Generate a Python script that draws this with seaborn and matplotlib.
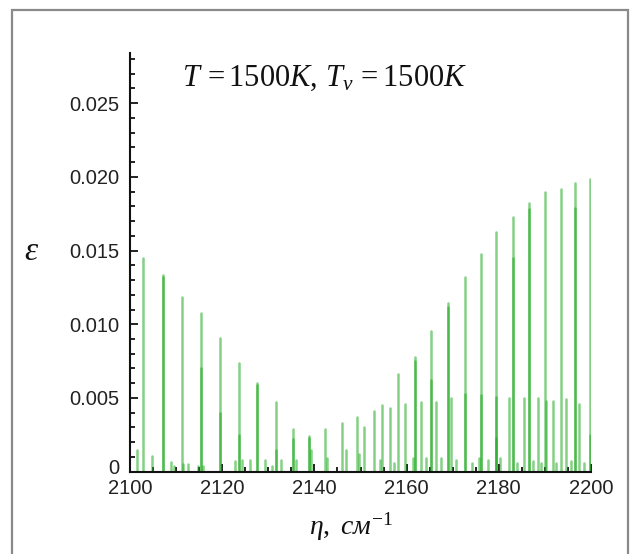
import numpy as np
import pandas as pd
import matplotlib
matplotlib.use("Agg")
import matplotlib.pyplot as plt
import matplotlib.transforms as mtransforms
import seaborn as sns
from matplotlib.ticker import MultipleLocator, FuncFormatter
from matplotlib.patches import Rectangle

# ---- data ----
main_pos = [2102.9, 2107.1, 2111.2, 2115.3, 2119.5, 2123.7, 2127.6, 2131.6, 2135.3,
            2138.8, 2150.8, 2154.6, 2158.2, 2161.8, 2165.4, 2169.0, 2172.7, 2176.1,
            2179.5, 2183.1, 2186.6, 2190.0, 2193.5, 2196.5, 2199.7]
main_height = [0.01448, 0.01334, 0.01187, 0.01075, 0.00905, 0.0074, 0.0060, 0.00475,
               0.00288, 0.00242, 0.00300, 0.00452, 0.0066, 0.0078, 0.00957, 0.01142,
               0.01319, 0.01477, 0.01628, 0.0173, 0.01825, 0.0190, 0.01916, 0.01957,
               0.01984]

overlay_pos = [2107.1, 2115.3, 2119.5, 2123.7, 2127.6, 2131.6, 2135.3, 2138.8,
               2161.8, 2165.4, 2169.0, 2172.7, 2176.1, 2179.5, 2179.5, 2183.1,
               2186.6, 2196.5, 2199.7]
overlay_height = [0.0132, 0.0070, 0.0040, 0.0025, 0.0059, 0.0015, 0.0022, 0.0023,
                  0.0075, 0.0062, 0.0112, 0.0053, 0.0052, 0.0051, 0.0023, 0.0145,
                  0.0178, 0.0179, 0.0025]

hot_pos = [2142.3, 2145.9, 2149.3, 2152.9, 2156.4, 2159.7, 2163.1, 2166.4, 2169.6,
           2182.2, 2185.5, 2188.6, 2190.2, 2191.7, 2194.6, 2197.4]
hot_height = [0.00288, 0.00333, 0.00373, 0.0041, 0.0043, 0.0046, 0.00475, 0.00475,
              0.0050, 0.00498, 0.0050, 0.0050, 0.0048, 0.0048, 0.0049, 0.0046]

weak_pos = [2101.45, 2104.8, 2108.8, 2109.6, 2111.6, 2112.5, 2114.8, 2115.8, 2122.8,
            2124.4, 2126.0, 2129.3, 2130.7, 2132.8, 2136.1, 2139.2, 2142.7, 2146.8,
            2149.6, 2154.3, 2157.3, 2161.4, 2164.3, 2167.4, 2170.8, 2174.2, 2175.6,
            2177.6, 2180.3, 2184.0, 2187.5, 2189.2, 2192.5, 2195.6, 2198.5]
weak_height = [0.00147, 0.00107, 0.00068, 0.0004, 0.0005, 0.0005, 0.0004, 0.0004,
               0.0007, 0.0008, 0.0008, 0.0008, 0.0004, 0.0008, 0.0008, 0.0015, 0.0009,
               0.0015, 0.0012, 0.0008, 0.0006, 0.0009, 0.0009, 0.0009, 0.0008, 0.0006,
               0.0009, 0.0008, 0.0009, 0.0006, 0.0007, 0.0006, 0.0006, 0.0007, 0.0006]

y_ticks = [0, 0.005, 0.010, 0.015, 0.020, 0.025]
x_ticks = [2100, 2120, 2140, 2160, 2180, 2200]
title_text = r"$T\,=1500K,\,T_v\,=1500K$"
xlabel_text = r"$\eta,\ см^{-1}$"
ylabel_text = r"$\varepsilon$"

# ---- build stick spectrum table ----
rows = []
uid = 0
for pos, hts in [(main_pos, main_height), (overlay_pos, overlay_height),
                 (hot_pos, hot_height), (weak_pos, weak_height)]:
    for p, h in zip(pos, hts):
        rows.append({"eta": p, "eps": 0.0, "line": uid})
        rows.append({"eta": p, "eps": h, "line": uid})
        uid += 1
df = pd.DataFrame(rows)

# ---- style ----
sns.set_style("white")
plt.rcParams["font.family"] = ["Liberation Sans", "DejaVu Sans"]
plt.rcParams["mathtext.fontset"] = "custom"
plt.rcParams["mathtext.rm"] = "Liberation Serif"
plt.rcParams["mathtext.it"] = "Liberation Serif:italic"

fig = plt.figure(figsize=(6.36, 5.54), dpi=100)
ax = fig.add_axes([130 / 636, 1 - 471.7 / 554, 461 / 636, (471.7 - 53) / 554])

sns.lineplot(data=df, x="eta", y="eps", units="line", estimator=None, sort=False,
             color="#1faa1f", alpha=0.55, linewidth=1.8, ax=ax, legend=False)

ax.set_xlim(2100, 2200)
ax.set_ylim(0, 0.0284)
ax.set_xlabel("")
ax.set_ylabel("")

for s in ["top", "right"]:
    ax.spines[s].set_visible(False)
for s in ["left", "bottom"]:
    ax.spines[s].set_color("#111111")
    ax.spines[s].set_linewidth(1.5)
    ax.spines[s].set_zorder(5)

ax.set_xticks(x_ticks)
ax.set_yticks(y_ticks)
ax.xaxis.set_minor_locator(MultipleLocator(5))
ax.yaxis.set_minor_locator(MultipleLocator(0.001))
ax.yaxis.set_major_formatter(FuncFormatter(lambda v, p: "0" if abs(v) < 1e-12 else f"{v:.3f}"))
ax.tick_params(which="both", direction="in", colors="#111111", width=1.3,
               left=True, bottom=True, right=False, top=False)
ax.tick_params(which="major", length=6, labelsize=14.5, labelcolor="#222222")
ax.tick_params(which="minor", length=3.5)
ax.tick_params(axis="y", which="major", pad=8)
ax.tick_params(axis="x", which="major", pad=5)

# the "0" label sits slightly higher, as in the reference
zero_lbl = ax.yaxis.get_major_ticks()[0].label1
zero_lbl.set_transform(zero_lbl.get_transform() +
                       mtransforms.ScaledTranslation(0, 5 / 100, fig.dpi_scale_trans))

ax.text(0.423, 0.940, title_text, transform=ax.transAxes, ha="center", va="center",
        fontsize=22, color="#111111")
fig.text(351 / 636, 1 - 527 / 554, xlabel_text, ha="center", va="center",
         fontsize=20, color="#111111")
fig.text(32 / 636, 1 - 251 / 554, ylabel_text, ha="center", va="center",
         fontsize=24, color="#111111")

border = Rectangle((12 / 636, -0.02), (628 - 12) / 636, 1.02 - 10 / 554,
                   transform=fig.transFigure, fill=False, edgecolor="#8a8a8a",
                   linewidth=1.6)
fig.patches.append(border)

fig.savefig("out.png", dpi=100)
